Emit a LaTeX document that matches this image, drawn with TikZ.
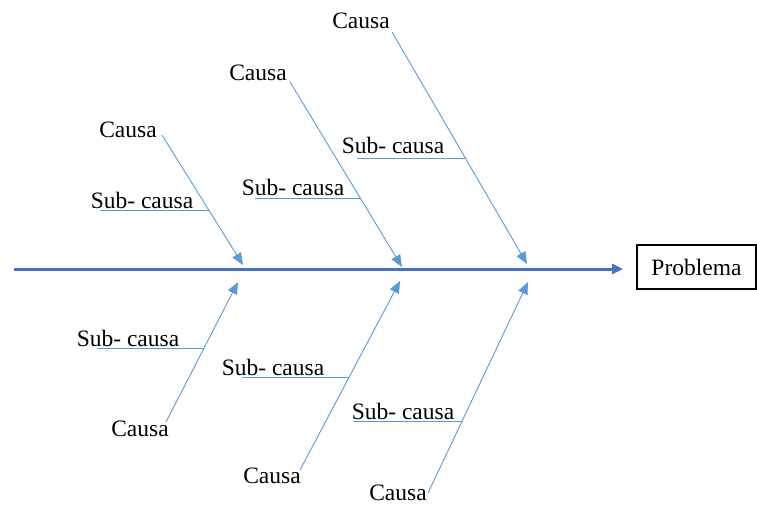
\documentclass[tikz,border=0pt]{standalone}
\usepackage{fontspec}
\setmainfont{Liberation Serif}
\usetikzlibrary{arrows.meta}
\definecolor{spine}{RGB}{68,114,196}
\definecolor{bone}{RGB}{91,155,213}
\tikzset{
  lbl/.style={inner sep=0pt, font=\fontsize{23.5}{27}\selectfont, text=black},
  bonearrow/.style={draw=bone, line width=0.9pt, -{Triangle[length=12pt,width=10pt]}},
  underline/.style={draw=bone, line width=0.9pt},
  spinearrow/.style={draw=spine, line width=3pt, -{Triangle[length=11pt,width=10pt]}},
  probbox/.style={draw=black, line width=1.2pt, minimum width=119pt, minimum height=44pt, inner sep=0pt, font=\fontsize{23.5}{27}\selectfont}
}
\begin{document}
\begin{tikzpicture}[x=1pt,y=-1pt]
\useasboundingbox (0,0) rectangle (757,506);
% problem box
\node[probbox] (prob) at (696.5,267) {Problema};
% spine
\coordinate (s0) at (14,269);
\coordinate (s1) at (623,269);
\draw[spinearrow] (s0) -- (s1);
% upper bones
\coordinate (u1s) at (162,135); \coordinate (u1t) at (243,265);
\coordinate (u2s) at (290,82);  \coordinate (u2t) at (402,267);
\coordinate (u3s) at (392,32);  \coordinate (u3t) at (527,264);
\draw[bonearrow] (u1s) -- (u1t);
\draw[bonearrow] (u2s) -- (u2t);
\draw[bonearrow] (u3s) -- (u3t);
\node[lbl] (uc1) at (128,130) {Causa};
\node[lbl] (uc2) at (258,73) {Causa};
\node[lbl] (uc3) at (361,21) {Causa};
\node[lbl] (us1) at (142,200) {Sub- causa};
\node[lbl] (us2) at (293,187) {Sub- causa};
\node[lbl] (us3) at (393,145) {Sub- causa};
\coordinate (ul1a) at (100,210); \coordinate (ul1b) at (208.7,210);
\coordinate (ul2a) at (255,198); \coordinate (ul2b) at (360.2,198);
\coordinate (ul3a) at (357,158); \coordinate (ul3b) at (465.3,158);
\draw[underline] (ul1a) -- (ul1b);
\draw[underline] (ul2a) -- (ul2b);
\draw[underline] (ul3a) -- (ul3b);
% lower bones
\coordinate (l1s) at (166,422); \coordinate (l1t) at (238,282);
\coordinate (l2s) at (300,470); \coordinate (l2t) at (400,281);
\coordinate (l3s) at (428,493); \coordinate (l3t) at (528,282);
\draw[bonearrow] (l1s) -- (l1t);
\draw[bonearrow] (l2s) -- (l2t);
\draw[bonearrow] (l3s) -- (l3t);
\node[lbl] (lc1) at (140,429) {Causa};
\node[lbl] (lc2) at (272,476) {Causa};
\node[lbl] (lc3) at (398,493) {Causa};
\node[lbl] (ls1) at (128,338) {Sub- causa};
\node[lbl] (ls2) at (273,367) {Sub- causa};
\node[lbl] (ls3) at (403,411) {Sub- causa};
\coordinate (ll1a) at (97,348);  \coordinate (ll1b) at (204,348);
\coordinate (ll2a) at (242,377); \coordinate (ll2b) at (349.2,377);
\coordinate (ll3a) at (353,421); \coordinate (ll3b) at (462,421);
\draw[underline] (ll1a) -- (ll1b);
\draw[underline] (ll2a) -- (ll2b);
\draw[underline] (ll3a) -- (ll3b);
\end{tikzpicture}
\end{document}
